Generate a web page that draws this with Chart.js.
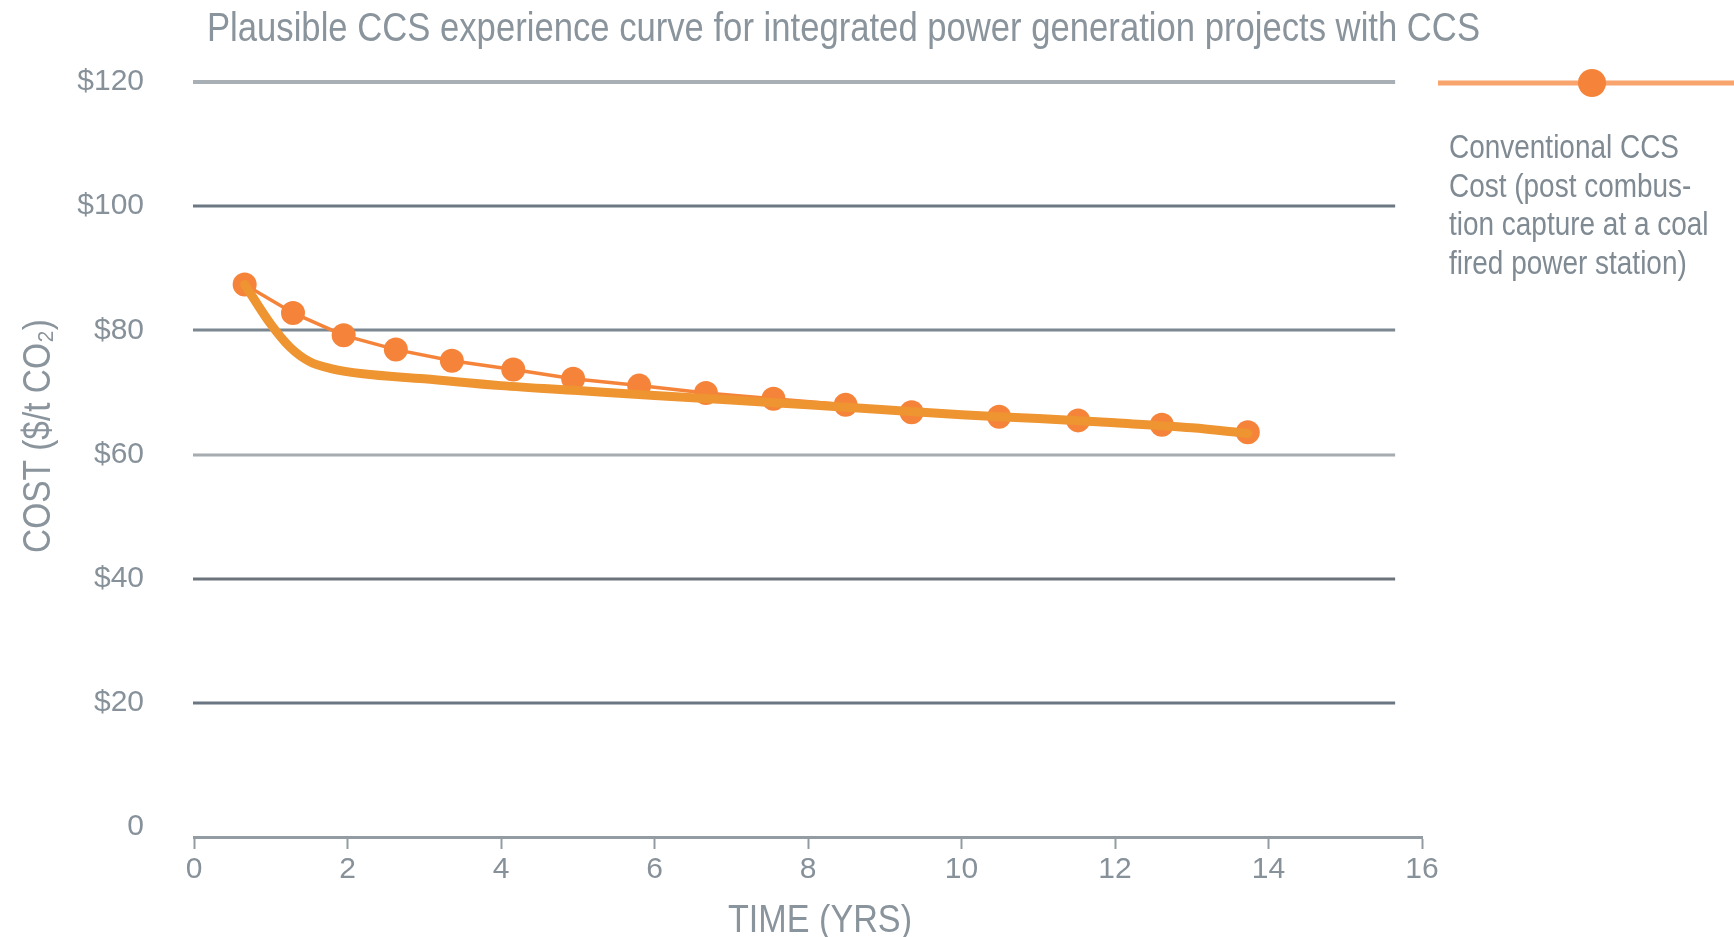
<!DOCTYPE html>
<html>
<head>
<meta charset="utf-8">
<title>CCS experience curve</title>
<style>
  html, body { margin: 0; padding: 0; background: #ffffff; }
  #wrap { position: relative; width: 1734px; height: 937px; }
</style>
<script src="https://cdn.jsdelivr.net/npm/chart.js@4.4.1/dist/chart.umd.min.js"></script>
</head>
<body>
<div id="wrap"><canvas id="chart" width="1734" height="937"></canvas></div>
<script>
// ---- text ----
const chartTitle = 'Plausible CCS experience curve for integrated power generation projects with CCS';
const xAxisTitle = 'TIME (YRS)';
const yAxisTitle = 'COST ($/t CO\u2082)';
const legendLines = ['Conventional CCS', 'Cost (post combus-', 'tion capture at a coal', 'fired power station)'];

// ---- data ----
// individual integrated projects (markers joined by a thin line)
const projectYears = [0.66, 1.29, 1.95, 2.63, 3.36, 4.16, 4.94, 5.80, 6.67, 7.55, 8.49, 9.35, 10.49, 11.52, 12.61, 13.73];
const projectCosts = [87.4, 82.8, 79.2, 76.9, 75.1, 73.7, 72.2, 71.1, 69.9, 69.0, 68.0, 66.8, 66.1, 65.5, 64.8, 63.6];

// smoothed experience curve
const curveYears = [0.66, 1.0, 1.25, 1.5, 1.8, 2.2, 3.0, 4.0, 5.0, 6.0, 7.0, 8.0, 9.0, 10.0, 11.0, 12.0, 13.0, 13.73];
const curveCosts = [87.4, 81.0, 77.3, 75.0, 73.8, 73.0, 72.2, 71.1, 70.3, 69.5, 68.8, 68.0, 67.2, 66.4, 65.8, 65.1, 64.3, 63.4];

// axis ticks
const xTicks = [0, 2, 4, 6, 8, 10, 12, 14, 16];
const yTicks = [0, 20, 40, 60, 80, 100, 120];

// ---- styles ----
const SANS = '"Liberation Sans", Arial, "DejaVu Sans", sans-serif';
const TEXT_GREY = '#87919a';
const AXIS_GREY = '#939ca3';
const gridColors = { 120: '#a9b0b5', 100: '#6b7884', 80: '#7b8791', 60: '#a6acb0', 40: '#6c737a', 20: '#6a7783' };
const gridEnd = 15.65;          // horizontal rules stop a little short of the last x tick
const dotOrange = '#f5843a';
const curveOrange = '#ee9431';
const legendLineOrange = '#f8a46c';

// draws text squeezed horizontally so it reads like a condensed face
function condensedText(ctx, text, x, y, squeeze, align) {
  ctx.save();
  ctx.translate(x, y);
  ctx.scale(squeeze, 1);
  ctx.textAlign = align;
  ctx.fillText(text, 0, 0);
  ctx.restore();
}
function squeezeFor(ctx, text, width) {
  return width / ctx.measureText(text).width;
}

const decor = {
  id: 'decor',
  beforeDatasetsDraw(chart) {
    const { ctx, chartArea, scales: { x, y } } = chart;
    const right = x.getPixelForValue(gridEnd);
    ctx.save();
    y.ticks.forEach(t => {
      if (t.value <= 0) return;
      const py = Math.round(y.getPixelForValue(t.value));
      ctx.strokeStyle = gridColors[t.value] || '#7b8791';
      ctx.lineWidth = t.value === 120 ? 4 : 3;
      ctx.beginPath();
      ctx.moveTo(chartArea.left - 1, py);
      ctx.lineTo(right, py);
      ctx.stroke();
    });
    ctx.restore();
  },
  afterDraw(chart) {
    const { ctx } = chart;
    ctx.save();
    ctx.textBaseline = 'alphabetic';

    // chart title
    ctx.fillStyle = '#8a949c';
    ctx.font = '40px ' + SANS;
    condensedText(ctx, chartTitle, 207, 41, squeezeFor(ctx, chartTitle, 1273), 'left');

    // axis titles
    ctx.font = '39px ' + SANS;
    condensedText(ctx, xAxisTitle, 820, 932, squeezeFor(ctx, xAxisTitle, 184), 'center');
    ctx.save();
    ctx.translate(50, 436);
    ctx.rotate(-Math.PI / 2);
    condensedText(ctx, yAxisTitle, 0, 0, squeezeFor(ctx, yAxisTitle, 234), 'center');
    ctx.restore();

    // legend: line with marker, then the wrapped label
    ctx.strokeStyle = legendLineOrange;
    ctx.lineWidth = 5;
    ctx.beginPath();
    ctx.moveTo(1438, 83);
    ctx.lineTo(1734, 83);
    ctx.stroke();
    ctx.fillStyle = dotOrange;
    ctx.beginPath();
    ctx.arc(1592, 83, 14, 0, Math.PI * 2);
    ctx.fill();

    ctx.fillStyle = '#7f8a93';
    ctx.font = '34px ' + SANS;
    const sq = squeezeFor(ctx, legendLines[0], 230);
    legendLines.forEach((line, i) => condensedText(ctx, line, 1449, 158 + i * 38.5, sq, 'left'));
    ctx.restore();
  }
};

function build() {
  new Chart(document.getElementById('chart'), {
    type: 'line',
    data: {
      datasets: [
        {
          label: 'Experience curve',
          data: curveYears.map((v, i) => ({ x: v, y: curveCosts[i] })),
          borderColor: curveOrange,
          borderWidth: 9,
          pointRadius: 0,
          fill: false,
          cubicInterpolationMode: 'monotone',
          borderCapStyle: 'round',
          borderJoinStyle: 'round'
        },
        {
          label: legendLines.join(' '),
          data: projectYears.map((v, i) => ({ x: v, y: projectCosts[i] })),
          borderColor: dotOrange,
          borderWidth: 3.5,
          pointRadius: 12,
          pointBackgroundColor: dotOrange,
          pointBorderWidth: 0,
          fill: false,
          tension: 0
        }
      ]
    },
    options: {
      responsive: false,
      animation: false,
      events: [],
      layout: { padding: { left: 0, top: 82, right: 312, bottom: 0 } },
      plugins: {
        legend: { display: false },
        tooltip: { enabled: false },
        title: { display: false }
      },
      scales: {
        x: {
          type: 'linear',
          min: 0,
          max: 16,
          afterBuildTicks: s => { s.ticks = xTicks.map(v => ({ value: v })); },
          afterFit: s => { s.height = 100; },
          grid: { drawOnChartArea: false, drawTicks: true, tickLength: 12, tickColor: AXIS_GREY, tickWidth: 2 },
          border: { display: true, color: AXIS_GREY, width: 3 },
          ticks: { font: { family: SANS, size: 30 }, color: TEXT_GREY, padding: 3, maxRotation: 0 }
        },
        y: {
          type: 'linear',
          min: -1.6,
          max: 120,
          afterBuildTicks: s => { s.ticks = yTicks.map(v => ({ value: v })); },
          afterFit: s => { s.width = 194; },
          grid: { display: false, drawTicks: false },
          border: { display: false },
          ticks: {
            font: { family: SANS, size: 30 },
            color: TEXT_GREY,
            padding: 50,
            callback: v => (v === 0 ? '0' : '$' + v)
          }
        }
      }
    },
    plugins: [decor]
  });
}

document.fonts.load('30px "Liberation Sans"').then(build, build);
</script>
</body>
</html>
